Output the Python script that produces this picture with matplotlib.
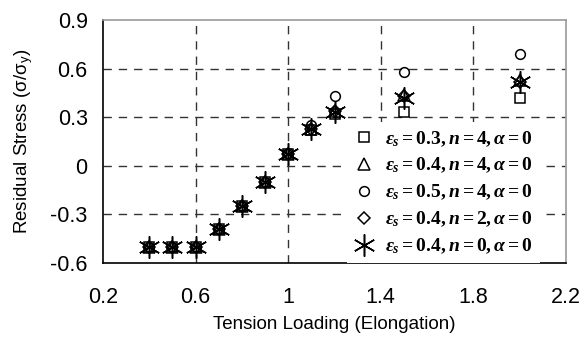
import numpy as np
import matplotlib.pyplot as plt

plt.rcParams['font.family'] = ['Liberation Sans', 'DejaVu Sans']
plt.rcParams['mathtext.fontset'] = 'custom'
plt.rcParams['mathtext.rm'] = 'Liberation Serif:bold'
plt.rcParams['mathtext.it'] = 'Liberation Serif:bold:italic'
plt.rcParams['mathtext.bf'] = 'Liberation Serif:bold'

# elongation steps
elong = [0.4, 0.5, 0.6, 0.7, 0.8, 0.9, 1.0, 1.1, 1.2, 1.5, 2.0]

# residual stress for each case
rs_s03_n4 = [-0.50, -0.50, -0.50, -0.39, -0.25, -0.10, 0.07, 0.22, 0.32, 0.33, 0.42]
rs_s04_n4 = [-0.50, -0.50, -0.50, -0.39, -0.25, -0.10, 0.07, 0.23, 0.34, 0.44, 0.53]
rs_s05_n4 = [-0.50, -0.50, -0.50, -0.39, -0.25, -0.10, 0.08, 0.25, 0.43, 0.58, 0.69]
rs_s04_n2 = [-0.50, -0.50, -0.50, -0.39, -0.25, -0.10, 0.07, 0.23, 0.34, 0.43, 0.52]
rs_s04_n0 = [-0.50, -0.50, -0.50, -0.39, -0.25, -0.10, 0.07, 0.23, 0.33, 0.42, 0.52]

labels = [r'$\varepsilon_s=0.3, n=4, \alpha=0$',
          r'$\varepsilon_s=0.4, n=4, \alpha=0$',
          r'$\varepsilon_s=0.5, n=4, \alpha=0$',
          r'$\varepsilon_s=0.4, n=2, \alpha=0$',
          r'$\varepsilon_s=0.4, n=0, \alpha=0$']

fig = plt.figure(figsize=(5.84, 3.43), dpi=100)
ax = fig.add_axes([103/584, 1 - 263/343, 463/584, 243/343])

kw = dict(linestyle='none', markerfacecolor='none', markeredgecolor='black', markeredgewidth=1.1)
ax.plot(elong, rs_s03_n4, marker='s', markersize=7, label=labels[0], **kw)
ax.plot(elong, rs_s04_n4, marker='^', markersize=8, label=labels[1], **kw)
ax.plot(elong, rs_s05_n4, marker='o', markersize=7, label=labels[2], **kw)
ax.plot(elong, rs_s04_n2, marker='D', markersize=6, label=labels[3], **kw)
ax.plot(elong, rs_s04_n0, marker=(6, 2, 0), markersize=16, label=labels[4], **kw)

ax.set_xlim(0.2, 2.2)
ax.set_ylim(-0.6, 0.9)
ax.set_xticks([0.2, 0.6, 1.0, 1.4, 1.8, 2.2])
ax.set_xticklabels(['0.2', '0.6', '1', '1.4', '1.8', '2.2'])
ax.set_yticks([-0.6, -0.3, 0, 0.3, 0.6, 0.9])
ax.set_yticklabels(['-0.6', '-0.3', '0', '0.3', '0.6', '0.9'])
ax.tick_params(axis='y', length=0, labelsize=15.5, pad=11)
ax.tick_params(axis='x', length=0, labelsize=15.5, pad=17)

for xv in [0.6, 1.0, 1.4, 1.8]:
    ax.axvline(xv, color='#333333', lw=1.0, ls=(0, (6, 5)), zorder=0)
for yv in [-0.3, 0, 0.3, 0.6]:
    ax.axhline(yv, color='#333333', lw=1.0, ls=(0, (6, 5)), zorder=0)

ax.spines['left'].set_color('black')
ax.spines['bottom'].set_color('black')
ax.spines['top'].set_color('#999999')
ax.spines['right'].set_color('#999999')
for s in ax.spines.values():
    s.set_linewidth(1.2)
    s.set_zorder(5)

ax.set_xlabel('Tension Loading (Elongation)', fontsize=13.5, labelpad=6)
ax.set_ylabel(r'Residual Stress (σ/σ$_{\mathregular{y}}$)', fontsize=13.5, labelpad=11)

leg = ax.legend(loc='lower right', bbox_to_anchor=(0.944, 0.0), borderaxespad=0.0,
                frameon=True, fancybox=False, prop={'size': 14}, labelspacing=0.38,
                handletextpad=0.6, handlelength=1.0, borderpad=0.35)
leg.get_frame().set_edgecolor('white')
leg.get_frame().set_linewidth(0)
leg.get_frame().set_alpha(1.0)

fig.savefig('out.png', dpi=100)
